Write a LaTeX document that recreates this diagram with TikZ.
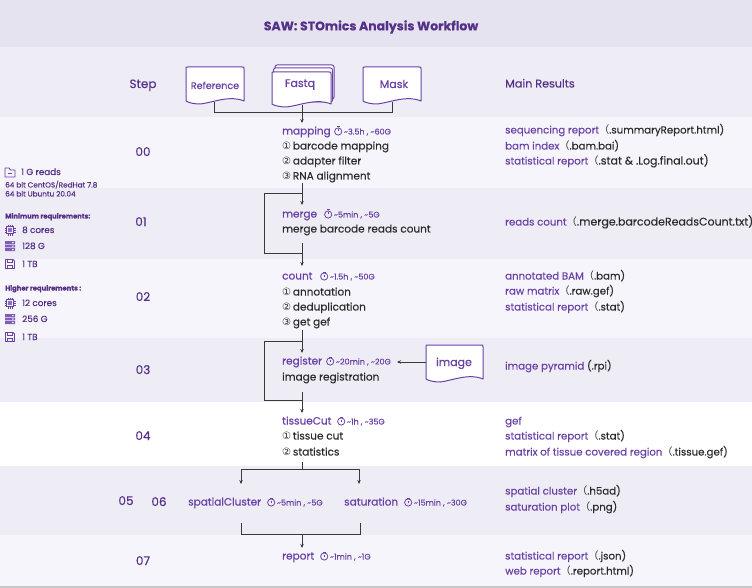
\documentclass[tikz,border=0pt]{standalone}
\usepackage{fontspec}
\setmainfont{Poppins}[FakeBold=0.25]
\newfontfamily\procf{Poppins}[FakeBold=0.6]
\newfontfamily\cjkf{Noto Sans CJK SC}
\newfontfamily\djvf{DejaVu Sans}
\usetikzlibrary{arrows.meta}
\definecolor{pur}{HTML}{6A42A6}
\definecolor{deep}{HTML}{553088}
\definecolor{blk}{HTML}{2B2B2B}
\definecolor{bandA}{HTML}{EEEDF6}
\definecolor{bandB}{HTML}{F6F5FB}
\definecolor{bandT}{HTML}{E5E3F0}
\definecolor{linec}{HTML}{3C3838}
\newcommand{\clk}{\tikz[x=1pt,y=1pt,baseline=-3pt]{\draw[pur,line width=.8pt] (0,0) circle (3.6); \draw[pur,line width=.8pt] (-1.3,4.6)--(1.3,4.6) (0,0)--(0,2);}}
\newcommand{\cn}[1]{{\djvf\fontsize{10}{10}\selectfont #1}\,}
\newcommand{\fp}{{\cjkf （}}
\newcommand{\tm}[1]{\clk\,{\fontsize{8}{9}\selectfont #1}}
\tikzset{
  base/.style={anchor=base west,inner sep=0,yshift=-3.5pt},
  band/.style={draw=none,fill=#1},
  stepno/.style={text=deep,font=\fontsize{12}{14}\selectfont,anchor=base,inner sep=0,yshift=-4pt},
  proc/.style={base,text=pur,font=\fontsize{10.5}{12}\selectfont\procf},
  cost/.style={base,text=pur},
  item/.style={base,text=blk,font=\fontsize{10.5}{12}\selectfont},
  result/.style={base,text=blk,font=\fontsize{10.2}{12}\selectfont},
  side/.style={base,yshift=.5pt,text=deep,font=\fontsize{8.8}{10}\selectfont},
  sideb/.style={base,yshift=1pt,text=deep,font=\fontsize{6.8}{8}\selectfont\bfseries},
  sides/.style={base,yshift=1pt,text=deep,font=\fontsize{7.3}{8}\selectfont},
  doc/.style={draw=pur,line width=1pt,fill=white,line join=round},
  doclabel/.style={text=pur,font=\fontsize{11}{12}\selectfont\procf,anchor=base,inner sep=0,yshift=-4pt},
  flow/.style={draw=linec,line width=.9pt},
  flowa/.style={flow,-{Stealth[length=4pt,width=3.5pt]}},
  icon/.style={draw=pur,line width=.9pt},
}
\newcommand{\docpath}[4]{% x0 y0 x1 y1
  \path[doc] (#1+2,#2) -- (#3-2,#2) .. controls (#3,#2) and (#3,#2) .. (#3,#2+2) -- (#3,#4)
   .. controls (#3*0.75+#1*0.25,#4-6) and (#3*0.5+#1*0.5,#4+1) .. (#3*0.25+#1*0.75,#4+3)
   .. controls (#3*0.15+#1*0.85,#4+3) and (#1+3,#4+2) .. (#1,#4) -- (#1,#2+2) .. controls (#1,#2) and (#1,#2) .. (#1+2,#2) -- cycle;}
\newcommand{\cpu}[2]{\begin{scope}[shift={(#1,#2)}]
  \draw[icon] (-2,-5.5)--(-2,5.5) (0,-5.5)--(0,5.5) (2,-5.5)--(2,5.5) (-5.5,-2)--(5.5,-2) (-5.5,0)--(5.5,0) (-5.5,2)--(5.5,2);
  \draw[icon,line width=1.1pt,fill=bandA] (-3.8,-3.8) rectangle (3.8,3.8);
  \fill[pur!75] (-1.6,-1.6) rectangle (1.6,1.6);
\end{scope}}
\newcommand{\ram}[2]{\begin{scope}[shift={(#1,#2)}]
  \fill[pur!85] (-5,-5) rectangle (5,-1.9) (-5,-1.2) rectangle (5,1.2) (-5,1.9) rectangle (5,5);
  \fill[white] (2,-4) rectangle (3.5,-3) (2,-.5) rectangle (3.5,.5) (2,3) rectangle (3.5,4);
\end{scope}}
\newcommand{\dsk}[2]{\begin{scope}[shift={(#1,#2)}]
  \draw[icon,line join=round] (-4.5,-4.5) -- (3,-4.5) -- (4.5,-3) -- (4.5,4.5) -- (-4.5,4.5) -- cycle;
  \draw[icon] (-2.5,-4.5) rectangle (2,-1.5) (-2.5,4.5) -- (-2.5,1) -- (2.5,1) -- (2.5,4.5);
\end{scope}}
\begin{document}
\begin{tikzpicture}[x=1pt,y=-1pt]
\useasboundingbox (0,0) rectangle (752,588);
% bands
\fill[band=bandT] (0,0) rectangle (752,47);
\fill[band=bandA] (0,47) rectangle (752,117);
\fill[band=bandB] (0,117) rectangle (752,188);
\fill[band=bandA] (0,188) rectangle (752,259);
\fill[band=bandB] (0,259) rectangle (752,338);
\fill[band=bandA] (0,338) rectangle (752,402);
\fill[band=white] (0,402) rectangle (752,466);
\fill[band=bandA] (0,466) rectangle (752,535);
\fill[band=bandB] (0,535) rectangle (752,586);
\fill[band=black!22] (0,586) rectangle (752,588);
% title
\node[text=deep,font=\fontsize{12.5}{14}\selectfont\bfseries,inner sep=0] (title) at (371,27) {SAW: STOmics Analysis Workflow};
\node[stepno] (step) at (143,84) {Step};
\node[base,text=deep,font=\fontsize{11.2}{13}\selectfont] (mainres) at (505,84) {Main Results};
\node[stepno] (s00) at (143,152) {00};
\node[stepno] (s01) at (141,222) {01};
\node[stepno] (s02) at (143,297) {02};
\node[stepno] (s03) at (143,370) {03};
\node[stepno] (s04) at (143,436) {04};
\node[stepno] (s05) at (126,501) {05};
\node[stepno] (s06) at (159,502) {06};
\node[stepno] (s07) at (143,561) {07};
% documents
\path[doc,rounded corners=2pt] (275,65) rectangle (334,99);
\path[doc,rounded corners=2pt] (273.5,68) rectangle (332.5,102);
\docpath{272}{72}{331}{104}
\docpath{186}{67}{244}{101}
\docpath{363}{67}{421}{101}
\docpath{426}{345}{483}{379}
\node[doclabel,font=\fontsize{9.6}{10}\selectfont\procf] (reference) at (215,85) {Reference};
\node[doclabel] (fastq) at (300,83) {Fastq};
\node[doclabel] (mask) at (394,84) {Mask};
\node[doclabel] (image) at (454,362) {image};
\coordinate (refb) at (214.5,102);
\coordinate (maskb) at (392,102);
\coordinate (fastqb) at (302,105);
% processes
\node[proc] (mapping) at (282,131) {mapping};
\node[cost] (mappingc) at (334,131) {\tm{\textasciitilde3.5h , \textasciitilde60G}};
\node[item] (m1) at (282,146) {\cn{①}barcode mapping};
\node[item] (m2) at (282,161) {\cn{②}adapter filter};
\node[item] (m3) at (282,176) {\cn{③}RNA alignment};
\node[proc] (merge) at (282,214) {merge};
\node[cost] (mergec) at (324,214) {\tm{\textasciitilde5min , \textasciitilde5G}};
\node[item] (merget) at (282,229) {merge barcode reads count};
\node[proc] (count) at (282,276) {count};
\node[cost] (countc) at (320,276) {\tm{\textasciitilde1.5h , \textasciitilde50G}};
\node[item] (c1) at (282,292) {\cn{①}annotation};
\node[item] (c2) at (282,307) {\cn{②}deduplication};
\node[item] (c3) at (282,322) {\cn{③}get gef};
\node[proc] (register) at (282,361) {register};
\node[cost] (registerc) at (326,361) {\tm{\textasciitilde20min , \textasciitilde20G}};
\node[item] (registert) at (282,377) {image registration};
\node[proc] (tissue) at (282,421) {tissueCut};
\node[cost] (tissuec) at (337,421) {\tm{\textasciitilde1h , \textasciitilde35G}};
\node[item] (t1) at (282,436) {\cn{①}tissue cut};
\node[item] (t2) at (282,452) {\cn{②}statistics};
\node[proc] (spatial) at (188,502) {spatialCluster};
\node[cost] (spatialc) at (267,502) {\tm{\textasciitilde5min , \textasciitilde5G}};
\node[proc] (saturation) at (344,502) {saturation};
\node[cost] (saturationc) at (404,502) {\tm{\textasciitilde15min , \textasciitilde30G}};
\node[proc] (report) at (282,556) {report};
\node[cost] (reportc) at (320,556) {\tm{\textasciitilde1min , \textasciitilde1G}};
% results
\node[result] (r1) at (505,130) {\textcolor{pur}{sequencing report}\fp.summaryReport.html)};
\node[result] (r2) at (505,146) {\textcolor{pur}{bam index}\fp.bam.bai)};
\node[result] (r3) at (505,161) {\textcolor{pur}{statistical report}\fp{\fontsize{11}{12}\selectfont.stat \& .Log.final.out)}};
\node[result] (r4) at (505,222) {\textcolor{pur}{reads count}\fp{\fontsize{11}{12}\selectfont.merge.barcodeReadsCount.txt)}};
\node[result] (r5) at (505,276) {\textcolor{pur}{annotated BAM}\fp.bam)};
\node[result] (r6) at (505,291) {\textcolor{pur}{raw matrix}\fp.raw.gef)};
\node[result] (r7) at (505,307) {\textcolor{pur}{statistical report}\fp.stat)};
\node[result] (r8) at (505,366) {\textcolor{pur}{image pyramid} (.rpi)};
\node[result] (r9) at (505,421) {\textcolor{pur}{gef}};
\node[result] (r10) at (505,436) {\textcolor{pur}{statistical report}\fp.stat)};
\node[result] (r11) at (505,452) {\textcolor{pur}{matrix of tissue covered region}\fp.tissue.gef)};
\node[result] (r12) at (505,491) {\textcolor{pur}{spatial cluster}\fp.h5ad)};
\node[result] (r13) at (505,507) {\textcolor{pur}{saturation plot}\fp.png)};
\node[result] (r14) at (505,556) {\textcolor{pur}{statistical report}\fp.json)};
\node[result] (r15) at (505,571) {\textcolor{pur}{web report}\fp.report.html)};
% side panel
\draw[icon,line join=round] (5,168) -- (9,168) -- (10.5,170) -- (15,170) -- (15,177) -- (5,177) -- cycle;
\draw[icon,line width=.6pt] (8,173.5)--(12,173.5);
\node[side] (reads) at (21,172) {1 G reads};
\node[sides] (os1) at (5,185) {64 bit CentOS/RedHat 7.8};
\node[sides] (os2) at (5,194) {64 bit Ubuntu 20.04};
\node[sideb] (minr) at (5,216) {Minimum requirements:};
\cpu{10}{230}\node[side] (a1) at (22,230) {8 cores};
\ram{10}{246}\node[side] (a2) at (22,246) {128 G};
\dsk{10}{264}\node[side] (a3) at (22,264) {1 TB};
\node[sideb] (higher) at (5,288) {Higher requirements :};
\cpu{10}{303}\node[side] (b1) at (22,303) {12 cores};
\ram{10}{319}\node[side] (b2) at (22,319) {256 G};
\dsk{10}{337}\node[side] (b3) at (22,337) {1 TB};
% connectors
\coordinate (busL) at (214.5,112);
\coordinate (busR) at (392,112);
\coordinate (busM) at (302,112);
\coordinate (mapIn) at (302,123);
\draw[flow] (refb) -- (busL) -- (busR) -- (maskb);
\draw[flowa] (fastqb) -- (mapIn);
\coordinate (o1) at (302,183);
\coordinate (o1b) at (302,193);
\coordinate (mergeIn) at (302,205);
\coordinate (l1a) at (264,193);
\coordinate (l1b) at (264,253);
\coordinate (o2a) at (302,243);
\coordinate (o2b) at (302,253);
\coordinate (countIn) at (302,266);
\draw[flowa] (o1) -- (mergeIn);
\draw[flow] (o1b) -- (l1a) -- (l1b) -- (o2b);
\draw[flowa] (o2a) -- (countIn);
\coordinate (o3) at (302,330);
\coordinate (o3b) at (302,341);
\coordinate (regIn) at (302,353);
\coordinate (l2a) at (264,341);
\coordinate (l2b) at (264,400);
\coordinate (o4a) at (302,392);
\coordinate (o4b) at (302,400);
\coordinate (tisIn) at (302,413);
\draw[flowa] (o3) -- (regIn);
\draw[flow] (o3b) -- (l2a) -- (l2b) -- (o4b);
\draw[flowa] (o4a) -- (tisIn);
\coordinate (imgL) at (426,362);
\coordinate (regR) at (397,362);
\draw[flowa] (imgL) -- (regR);
\coordinate (o5) at (302,462);
\coordinate (o5b) at (302,469);
\coordinate (sL) at (241,469);
\coordinate (sR) at (359,469);
\coordinate (sLi) at (241,484);
\coordinate (sRi) at (359,484);
\draw[flow] (o5) -- (o5b);
\draw[flowa] (sLi |- o5b) -- (sLi);
\draw[flowa] (sRi |- o5b) -- (sRi);
\draw[flow] (sL) -- (sR);
\coordinate (u1) at (241,523);
\coordinate (u2) at (241,534);
\coordinate (u3) at (360,534);
\coordinate (u4) at (360,523);
\coordinate (u5) at (302,534);
\coordinate (repIn) at (302,548);
\draw[flow] (u1) -- (u2) -- (u3) -- (u4);
\draw[flowa] (u5) -- (repIn);
\end{tikzpicture}
\end{document}
